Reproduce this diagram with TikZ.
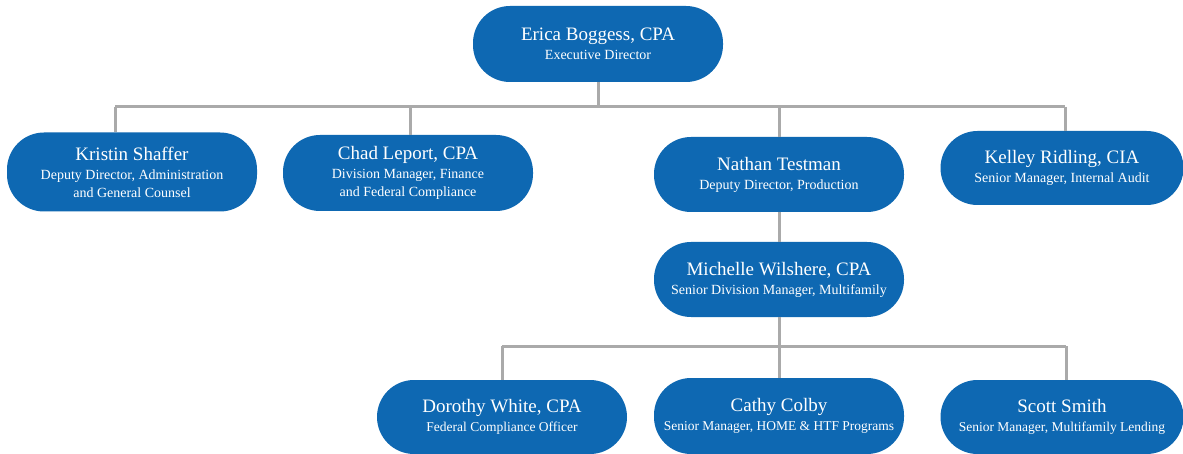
\documentclass[tikz,border=0pt]{standalone}
\usepackage{fontspec}
\setmainfont{Liberation Serif}
\definecolor{boxblue}{RGB}{14,104,178}
\definecolor{linegray}{RGB}{170,170,170}
\newcommand{\orgname}[1]{{\fontsize{19}{22}\selectfont #1}}
\newcommand{\orgsub}[1]{{\fontsize{14}{16}\selectfont #1}}
\newcommand{\orgsubn}[1]{{\fontsize{13.5}{16}\selectfont #1}}
\tikzset{
  orgbox/.style={draw=none, fill=boxblue, text=white, rectangle, rounded corners=37pt,
    minimum width=250pt, minimum height=75pt, inner sep=0pt, align=center,
    font=\fontsize{13}{19}\selectfont},
  conn/.style={draw=linegray, line width=3pt}
}
\begin{document}
\begin{tikzpicture}[x=1pt,y=-1pt]
\fill[white] (0,0) rectangle (1183,454);
\useasboundingbox (0,0) rectangle (1183,454);

% bus points
\coordinate (b1mid) at (598,107);
\coordinate (b1k) at (115,107);
\coordinate (b1c) at (410,107);
\coordinate (b1n) at (779,107);
\coordinate (b1r) at (1065,107);
\coordinate (b2mid) at (779,346);
\coordinate (b2d) at (502,346);
\coordinate (b2s) at (1066,346);

% nodes
\node[orgbox, minimum height=76pt] (erica) at (598,44) {\orgname{Erica Boggess, CPA}\\\orgsub{Executive Director}};
\node[orgbox, minimum height=79pt] (kristin) at (132,172) {\orgname{Kristin Shaffer}\\\orgsub{Deputy Director, Administration}\\[-1pt]\orgsub{and General Counsel}};
\node[orgbox, minimum height=76pt] (chad) at (408,173) {\orgname{Chad Leport, CPA}\\\orgsub{Division Manager, Finance}\\[-1pt]\orgsub{and Federal Compliance}};
\node[orgbox] (nathan) at (779,174.5) {\orgname{Nathan Testman}\\\orgsub{Deputy Director, Production}};
\node[orgbox, minimum width=243pt, minimum height=74pt] (kelley) at (1062,168) {\orgname{Kelley Ridling, CIA}\\\orgsub{Senior Manager, Internal Audit}};
\node[orgbox] (michelle) at (779,279.5) {\orgname{Michelle Wilshere, CPA}\\\orgsub{Senior Division Manager, Multifamily}};
\node[orgbox, minimum height=74pt] (dorothy) at (502,417) {\orgname{Dorothy White, CPA}\\\orgsubn{Federal Compliance Officer}};
\node[orgbox, minimum height=76pt] (cathy) at (779,416) {\orgname{Cathy Colby}\\\orgsubn{Senior Manager, HOME \& HTF Programs}};
\node[orgbox, minimum width=243pt, minimum height=74pt] (scott) at (1062,417) {\orgname{Scott Smith}\\\orgsubn{Senior Manager, Multifamily Lending}};

% connectors
\draw[conn] (erica.south) -- (b1mid);
\draw[conn] (b1k) -- (b1r);
\draw[conn] (b1k) -- (b1k |- kristin.north);
\draw[conn] (b1c) -- (b1c |- chad.north);
\draw[conn] (b1n) -- (b1n |- nathan.north);
\draw[conn] (b1r) -- (b1r |- kelley.north);
\draw[conn] (nathan.south) -- (michelle.north);
\draw[conn] (michelle.south) -- (b2mid);
\draw[conn] (b2d) -- (b2s);
\draw[conn] (b2d) -- (b2d |- dorothy.north);
\draw[conn] (b2mid) -- (b2mid |- cathy.north);
\draw[conn] (b2s) -- (b2s |- scott.north);
\end{tikzpicture}
\end{document}
